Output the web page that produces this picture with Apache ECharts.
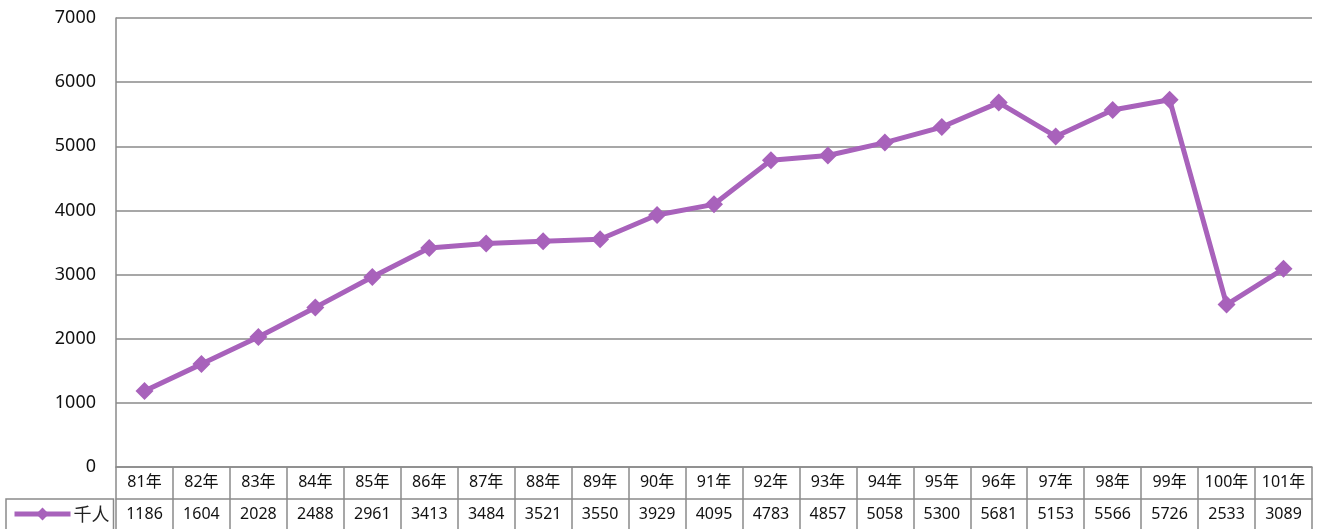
<!DOCTYPE html>
<html><head><meta charset="utf-8">
<script src="https://cdn.jsdelivr.net/npm/echarts@6/dist/echarts.min.js"></script>
<style>html,body{margin:0;padding:0;background:#fff}#c{width:1320px;height:529px}</style>
</head><body><div id="c"></div>
<script>
const categories = ['81年','82年','83年','84年','85年','86年','87年','88年','89年','90年','91年','92年','93年','94年','95年','96年','97年','98年','99年','100年','101年'];
const values = [1186,1604,2028,2488,2961,3413,3484,3521,3550,3929,4095,4783,4857,5058,5300,5681,5153,5566,5726,2533,3089];
const seriesName = '千人';
const yTicks = {min:0, max:7000, interval:1000};

const gray = '#8a8a8a';
const purple = '#a862bb';
const font = 'Noto Sans, "Noto Sans CJK TC", sans-serif';
const chart = echarts.init(document.getElementById('c'), null, {renderer:'canvas'});
chart.setOption({
  animation:false,
  grid:{left:116, right:8, top:18, bottom:62, containLabel:false},
  legend:{
    left:6, top:499, orient:'horizontal',
    padding:[6,4,30,6], borderColor:gray, borderWidth:1.5,
    itemWidth:56, itemHeight:16, itemGap:0,
    itemStyle:{color:purple},
    lineStyle:{width:5, color:purple},
    textStyle:{fontFamily:'"Noto Sans CJK TC", sans-serif', fontSize:18, color:'#222', padding:[0,0,0,-2]},
    data:[seriesName]
  },
  xAxis:[{
    type:'category', data:categories, boundaryGap:true, position:'bottom',
    axisLine:{show:true, lineStyle:{color:gray, width:1.5}},
    axisTick:{show:true, length:62, lineStyle:{color:gray, width:1.5}},
    axisLabel:{margin:7, fontFamily:font, fontSize:16, color:'#111', interval:0}
  },{
    type:'category', data:values.map(String), boundaryGap:true, position:'bottom', offset:32,
    axisLine:{show:true, lineStyle:{color:gray, width:1.5}},
    axisTick:{show:false},
    axisLabel:{margin:7, fontFamily:font, fontSize:16, color:'#111', interval:0}
  }],
  yAxis:{
    type:'value', min:yTicks.min, max:yTicks.max, interval:yTicks.interval,
    axisLine:{show:true, lineStyle:{color:gray, width:1.5}},
    axisTick:{show:false},
    splitLine:{show:true, lineStyle:{color:gray, width:1.5}},
    axisLabel:{margin:20, fontFamily:font, fontSize:18, color:'#111', formatter:v=>String(v)}
  },
  series:[{
    name:seriesName, type:'line', data:values, xAxisIndex:0,
    symbol:'diamond', symbolSize:18,
    lineStyle:{color:purple, width:5},
    itemStyle:{color:purple},
    z:5
  }]
});
</script></body></html>
